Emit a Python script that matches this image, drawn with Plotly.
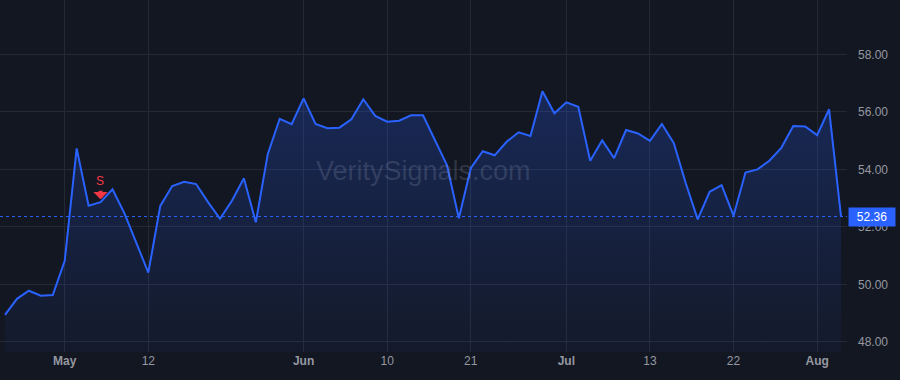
import plotly.graph_objects as go

# ---- data ----
prices = [
    48.94, 49.50, 49.78, 49.61, 49.63, 50.82, 54.73, 52.74, 52.86, 53.31,
    52.47, 51.43, 50.41, 52.73, 53.42, 53.57, 53.49, 52.86, 52.28, 52.91,
    53.69, 52.16, 54.53, 55.76, 55.57, 56.47, 55.58, 55.43, 55.45, 55.74,
    56.44, 55.86, 55.66, 55.69, 55.88, 55.88, 55.02, 54.15, 52.30, 54.04,
    54.63, 54.49, 54.96, 55.29, 55.16, 56.72, 55.95, 56.33, 56.18, 54.30,
    55.01, 54.39, 55.37, 55.25, 54.99, 55.58, 54.91, 53.52, 52.26, 53.22,
    53.45, 52.39, 53.89, 54.00, 54.30, 54.75, 55.51, 55.49, 55.19, 56.09,
    52.36,
]
tick_index = [5, 12, 25, 32, 39, 47, 54, 61, 68]
tick_labels = ["<b>May</b>", "12", "<b>Jun</b>", "10", "21", "<b>Jul</b>", "13", "22", "<b>Aug</b>"]
y_ticks = [48, 50, 52, 54, 56, 58]
signal_index = 8
signal_text = "S"
last_price = prices[-1]
watermark = "VeritySignals.com"

BG = "#131722"
GRID = "#242936"
BLUE = "#2962ff"
RED = "#f23645"
TXT = "#9598a1"

x = list(range(len(prices)))

fig = go.Figure()
fig.add_trace(go.Scatter(
    x=x, y=prices, mode="lines",
    line=dict(color=BLUE, width=2),
    fill="tozeroy",
    fillgradient=dict(
        type="vertical", start=47.65, stop=56.8,
        colorscale=[[0, "rgba(41,98,255,0.04)"], [1, "rgba(41,98,255,0.24)"]],
    ),
    hoverinfo="skip", showlegend=False,
))

fig.add_hline(y=last_price, line=dict(color=BLUE, width=1, dash="3px,3px"))

# signal marker: arrow + letter
fig.add_annotation(
    x=signal_index, y=prices[signal_index], xref="x", yref="y",
    text="", showarrow=True, ax=0, ay=-13, arrowcolor=RED, arrowhead=1,
    arrowwidth=4, arrowsize=0.6, standoff=3,
)
fig.add_annotation(
    x=signal_index, y=prices[signal_index], xref="x", yref="y",
    text=signal_text, showarrow=False, yshift=21, xshift=-0.5,
    font=dict(color=RED, size=12, family="Arial"),
)

# last price label
fig.add_annotation(
    x=1, xref="paper", xanchor="left", xshift=1,
    y=last_price, yref="y", yanchor="middle",
    text=f"{last_price:.2f}", showarrow=False,
    bgcolor=BLUE, font=dict(color="#ffffff", size=12, family="Arial"),
    borderpad=2, width=42,
)

# watermark
fig.add_annotation(
    x=0.5, y=0.515, xref="paper", yref="paper",
    text=watermark, showarrow=False,
    font=dict(size=27, color="rgba(150,160,185,0.22)", family="Arial"),
)

fig.update_layout(
    width=900, height=380,
    margin=dict(l=0, r=53, t=0, b=28),
    paper_bgcolor=BG, plot_bgcolor=BG,
    font=dict(family="Arial", size=12, color=TXT),
    xaxis=dict(
        range=[-0.42, 70.5], tickmode="array", tickvals=tick_index,
        ticktext=tick_labels, showgrid=True, gridcolor=GRID, gridwidth=1,
        zeroline=False, showline=False, ticks="", tickfont=dict(size=12, color=TXT),
        fixedrange=True,
    ),
    yaxis=dict(
        side="right", range=[47.65, 59.89], tickmode="array", tickvals=y_ticks,
        ticktext=[f"{v:.2f}" for v in y_ticks], showgrid=True, gridcolor=GRID,
        zeroline=False, showline=False, ticks="", ticklabelstandoff=10,
        tickfont=dict(size=12, color=TXT), fixedrange=True,
    ),
)

fig.write_html("out.html")
